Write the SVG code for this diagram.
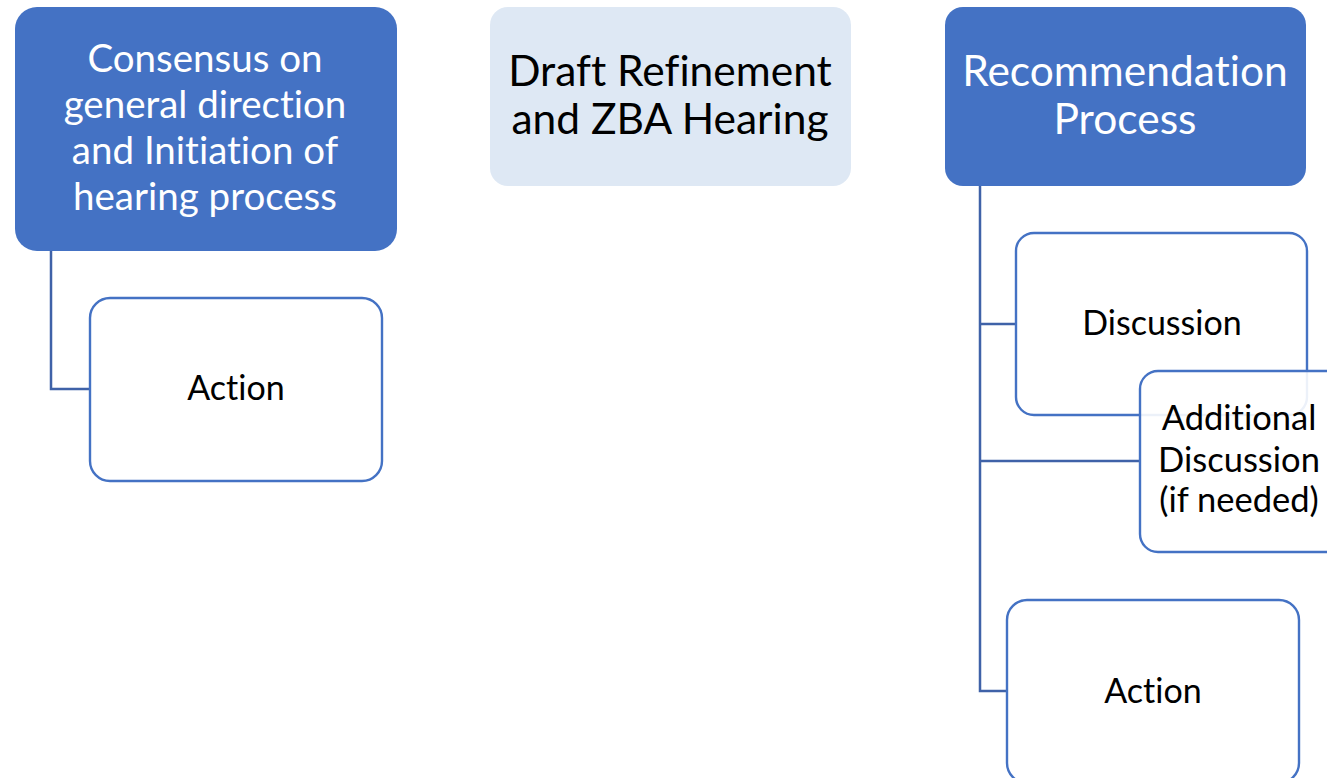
<svg xmlns="http://www.w3.org/2000/svg" width="1327" height="778" viewBox="0 0 1327 778">
<style>
.dark{fill:#4472C4;}
.light{fill:#DEE8F4;}
.box{fill:#FFFFFF;stroke:#4472C4;stroke-width:2.4;}
.conn{fill:none;stroke:#3F62A8;stroke-width:2.5;}
text{font-family:Lato,"Open Sans","Liberation Sans",sans-serif;text-anchor:middle;font-variant-ligatures:none;font-feature-settings:"liga" 0,"dlig" 0;}
.w{fill:#FFFFFF;}
.k{fill:#000000;}
</style>
<rect width="1327" height="778" fill="#FFFFFF"/>
<g id="connectors">
<polyline class="conn" points="51,251 51,389 90,389"/>
<polyline class="conn" points="980,186 980,691 1007,691"/>
<line class="conn" x1="980" y1="324" x2="1016" y2="324"/>
<line class="conn" x1="980" y1="461" x2="1140" y2="461"/>
</g>
<g id="consensus">
<rect class="dark" x="15" y="7" width="382" height="244" rx="22"/>
<text class="w" font-size="38.5"><tspan x="205" y="72">Consensus on</tspan><tspan x="205" y="118">general direction</tspan><tspan x="205" y="164">and Initiation of</tspan><tspan x="205" y="210">hearing process</tspan></text>
</g>
<g id="action1">
<rect class="box" x="90" y="298" width="292" height="183" rx="20"/>
<text class="k" font-size="34" x="236" y="400">Action</text>
</g>
<g id="draft">
<rect class="light" x="490" y="7" width="361" height="179" rx="18"/>
<text class="k" font-size="42.5"><tspan x="670" y="86">Draft Refinement</tspan><tspan x="670" y="134">and ZBA Hearing</tspan></text>
</g>
<g id="recommendation">
<rect class="dark" x="945" y="7" width="361" height="179" rx="18"/>
<text class="w" font-size="42.5"><tspan x="1125" y="86">Recommendation</tspan><tspan x="1125" y="134">Process</tspan></text>
</g>
<g id="discussion">
<rect class="box" x="1016" y="233" width="291" height="182" rx="18"/>
<text class="k" font-size="34" x="1162" y="335">Discussion</text>
</g>
<g id="additional">
<rect class="box" x="1140" y="371" width="291" height="181" rx="18" fill-opacity="0.9"/>
<text class="k" font-size="34.5"><tspan x="1239" y="430">Additional</tspan><tspan x="1239" y="472">Discussion</tspan><tspan x="1239" y="512">(if needed)</tspan></text>
</g>
<g id="action2">
<rect class="box" x="1007" y="600" width="292" height="183" rx="20"/>
<text class="k" font-size="34" x="1153" y="703">Action</text>
</g>
</svg>
